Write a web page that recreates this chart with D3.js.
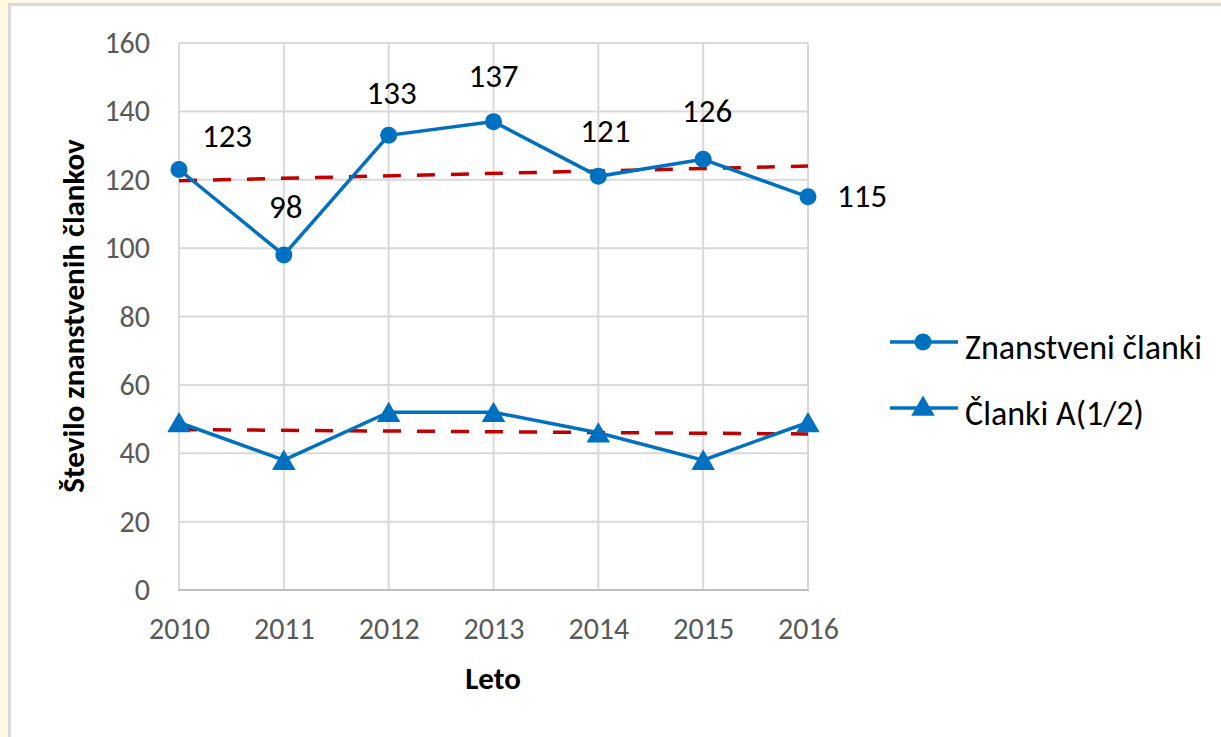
<!DOCTYPE html>
<html>
<head>
<meta charset="utf-8">
<script src="https://cdnjs.cloudflare.com/ajax/libs/d3/7.8.5/d3.min.js"></script>
<style>
	body { margin: 0; background: #fdf8e2; }
	svg { display: block; }
	text { font-family: Carlito, Calibri, "Open Sans", sans-serif; }
</style>
</head>
<body>
<div class="content"></div>
<script>
const years = [2010, 2011, 2012, 2013, 2014, 2015, 2016];
const clanki = [123, 98, 133, 137, 121, 126, 115];
const clankiA = [49, 38, 52, 52, 46, 38, 49];
const yTicks = [0, 20, 40, 60, 80, 100, 120, 140, 160];
const seriesNames = ['Znanstveni članki', 'Članki A(1/2)'];

const w = 1221;
const h = 737;
const blue = '#0070c0';
const red = '#c00000';

// data label offsets from the point, [dx, dy, anchor]
const labelOffsets = [
	[48, -22, 'middle'],
	[2, -37, 'middle'],
	[3, -31, 'middle'],
	[0, -35, 'middle'],
	[7, -34, 'middle'],
	[4, -37, 'middle'],
	[29, 10, 'start']
];

const svg = d3.select('.content').append('svg')
	.attr('width', w)
	.attr('height', h);

// panel
svg.append('rect')
	.attr('x', 9.5)
	.attr('y', 4.5)
	.attr('width', w)
	.attr('height', h)
	.attr('fill', '#fff')
	.attr('stroke', '#d9d9d9')
	.attr('stroke-width', 3);

const x = d3.scalePoint().domain(years).range([179, 808]);
const y = d3.scaleLinear().domain([0, 160]).range([590, 43]);

// grid
svg.append('g')
	.selectAll('line')
	.data(yTicks.slice(1))
	.enter()
	.append('line')
	.attr('x1', 179)
	.attr('x2', 808)
	.attr('y1', d => y(d))
	.attr('y2', d => y(d))
	.attr('stroke', '#d9d9d9')
	.attr('stroke-width', 2);

svg.append('g')
	.selectAll('line')
	.data(years)
	.enter()
	.append('line')
	.attr('x1', d => x(d))
	.attr('x2', d => x(d))
	.attr('y1', y(0))
	.attr('y2', y(160))
	.attr('stroke', '#d9d9d9')
	.attr('stroke-width', 2);

svg.append('line')
	.attr('x1', 178)
	.attr('x2', 809)
	.attr('y1', y(0))
	.attr('y2', y(0))
	.attr('stroke', '#bfbfbf')
	.attr('stroke-width', 2);

// axes
const yAxis = svg.append('g')
	.attr('transform', 'translate(179,0)')
	.call(d3.axisLeft(y).tickValues(yTicks).tickSize(0).tickPadding(29));
yAxis.select('.domain').remove();
yAxis.selectAll('text')
	.attr('fill', '#595959')
	.style('font-size', '30px');

const xAxis = svg.append('g')
	.attr('transform', `translate(0,${y(0)})`)
	.call(d3.axisBottom(x).tickSize(0).tickPadding(28));
xAxis.select('.domain').remove();
xAxis.selectAll('text')
	.attr('fill', '#595959')
	.style('font-size', '30px');

svg.append('text')
	.attr('transform', 'translate(84,316) rotate(-90)')
	.attr('text-anchor', 'middle')
	.style('font-size', '31px')
	.style('font-weight', 'bold')
	.text('Število znanstvenih člankov');

svg.append('text')
	.attr('x', 493)
	.attr('y', 689)
	.attr('text-anchor', 'middle')
	.style('font-size', '31px')
	.style('font-weight', 'bold')
	.text('Leto');

// trend lines (least squares)
function trend(vals) {
	const n = vals.length;
	const mx = d3.mean(vals, (v, i) => i);
	const my = d3.mean(vals);
	const slope = d3.sum(vals, (v, i) => (i - mx) * (v - my)) / d3.sum(vals, (v, i) => (i - mx) ** 2);
	return [0, n - 1].map(i => ({ year: years[i], v: my + slope * (i - mx) }));
}

const line = d3.line().x(d => x(d.year)).y(d => y(d.v));

[clanki, clankiA].forEach(vals => {
	svg.append('path')
		.datum(trend(vals))
		.attr('d', line)
		.attr('fill', 'none')
		.attr('stroke', red)
		.attr('stroke-width', 3.5)
		.attr('stroke-dasharray', '18,16');
});

// series
const s1 = years.map((yr, i) => ({ year: yr, v: clanki[i] }));
const s2 = years.map((yr, i) => ({ year: yr, v: clankiA[i] }));

[s1, s2].forEach(s => {
	svg.append('path')
		.datum(s)
		.attr('d', line)
		.attr('fill', 'none')
		.attr('stroke', blue)
		.attr('stroke-width', 3.5);
});

svg.append('g')
	.selectAll('circle')
	.data(s1)
	.enter()
	.append('circle')
	.attr('cx', d => x(d.year))
	.attr('cy', d => y(d.v))
	.attr('r', 8.5)
	.attr('fill', blue);

const tri = d3.symbol().type(d3.symbolTriangle).size(240);
svg.append('g')
	.selectAll('path')
	.data(s2)
	.enter()
	.append('path')
	.attr('transform', d => `translate(${x(d.year)},${y(d.v) + 3})`)
	.attr('d', tri)
	.attr('fill', blue);

// data labels
svg.append('g')
	.selectAll('text')
	.data(s1)
	.enter()
	.append('text')
	.attr('x', (d, i) => x(d.year) + labelOffsets[i][0])
	.attr('y', (d, i) => y(d.v) + labelOffsets[i][1])
	.attr('text-anchor', (d, i) => labelOffsets[i][2])
	.attr('fill', '#000')
	.style('font-size', '33px')
	.text(d => d.v);

// legend
const legend = svg.append('g');
seriesNames.forEach((name, i) => {
	const ly = 342 + i * 66;
	legend.append('line')
		.attr('x1', 890)
		.attr('x2', 958)
		.attr('y1', ly)
		.attr('y2', ly)
		.attr('stroke', blue)
		.attr('stroke-width', 3.5);
	if (i === 0) {
		legend.append('circle')
			.attr('cx', 923)
			.attr('cy', ly)
			.attr('r', 8.5)
			.attr('fill', blue);
	} else {
		legend.append('path')
			.attr('transform', `translate(923,${ly + 1})`)
			.attr('d', tri)
			.attr('fill', blue);
	}
	legend.append('text')
		.attr('x', 965)
		.attr('y', ly + 17)
		.style('font-size', '34px')
		.attr('fill', '#000')
		.text(name);
});
</script>
</body>
</html>
